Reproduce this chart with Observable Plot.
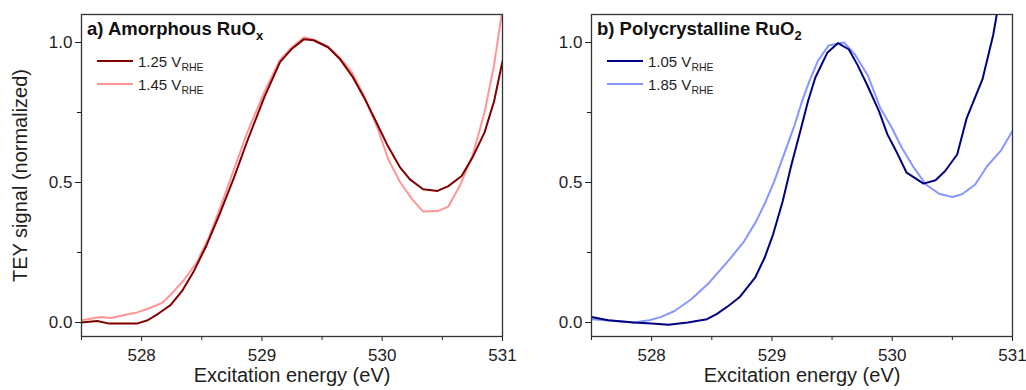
<!DOCTYPE html>
<html><head><meta charset="utf-8">
<script src="https://cdn.jsdelivr.net/npm/d3@7"></script>
<script src="https://cdn.jsdelivr.net/npm/@observablehq/plot@0.6"></script>
<style>
body{margin:0;background:#fff;}
#wrap{position:relative;width:1026px;height:390px;}
#wrap svg{position:absolute;top:0;}
</style></head><body><div id="wrap"></div>
<script>
// Panel a) Amorphous RuOx
const aE125 = [527.5,527.63,527.73,527.85,527.96,528.05,528.14,528.24,528.34,528.43,528.54,528.65,528.77,528.88,529.02,529.15,529.25,529.35,529.43,529.55,529.65,529.75,529.85,529.94,530.04,530.15,530.23,530.34,530.46,530.55,530.66,530.75,530.85,530.93,531.0];
const aV125 = [0.0,0.005,-0.004,-0.004,-0.004,0.008,0.032,0.062,0.115,0.18,0.276,0.389,0.52,0.65,0.805,0.93,0.978,1.012,1.008,0.983,0.94,0.88,0.803,0.725,0.636,0.553,0.511,0.476,0.47,0.487,0.523,0.589,0.678,0.79,0.933];
const aE145 = [527.5,527.66,527.74,527.85,527.96,528.06,528.17,528.25,528.35,528.46,528.56,528.66,528.77,528.88,529.02,529.15,529.25,529.35,529.43,529.55,529.65,529.75,529.85,529.96,530.05,530.15,530.25,530.34,530.46,530.55,530.65,530.75,530.85,530.93,531.0];
const aV145 = [0.008,0.02,0.016,0.026,0.036,0.05,0.07,0.103,0.151,0.216,0.305,0.418,0.55,0.68,0.823,0.938,0.983,1.019,1.01,0.985,0.945,0.892,0.808,0.696,0.583,0.5,0.44,0.396,0.398,0.414,0.493,0.594,0.749,0.92,1.12];
// Panel b) Polycrystalline RuO2
const bE105 = [527.5,527.64,527.85,528.0,528.14,528.3,528.46,528.54,528.64,528.73,528.86,528.94,529.01,529.09,529.16,529.24,529.3,529.36,529.46,529.55,529.64,529.71,529.79,529.89,529.96,530.04,530.12,530.26,530.36,530.44,530.54,530.62,530.75,530.84,530.93];
const bV105 = [0.02,0.008,0.0,-0.004,-0.008,0.0,0.012,0.03,0.06,0.09,0.16,0.232,0.315,0.434,0.56,0.69,0.79,0.874,0.963,0.998,0.975,0.921,0.85,0.755,0.672,0.606,0.535,0.496,0.508,0.541,0.6,0.731,0.868,1.028,1.25];
const bE185 = [527.5,527.67,527.85,527.98,528.08,528.19,528.33,528.48,528.66,528.77,528.87,528.95,529.02,529.11,529.19,529.25,529.31,529.38,529.47,529.6,529.69,529.8,529.9,529.99,530.08,530.18,530.28,530.39,530.5,530.58,530.69,530.79,530.9,531.0];
const bV185 = [0.012,0.006,0.0,0.008,0.02,0.041,0.083,0.143,0.232,0.291,0.362,0.434,0.505,0.612,0.707,0.79,0.86,0.933,0.989,1.0,0.957,0.88,0.767,0.701,0.624,0.553,0.493,0.46,0.448,0.458,0.493,0.559,0.612,0.684];

const xMajor = [528, 529, 530, 531];
const xMinor = [527.5, 528.5, 529.5, 530.5];
const yMajor = [0, 0.5, 1.0];
const yMinor = [0.25, 0.75];
const xLabel = "Excitation energy (eV)";
const yLabel = "TEY signal (normalized)";

const FONT = "'Liberation Sans', Arial, Helvetica, sans-serif";
const INK = "#1e1e1e";

function rows(E, V, s) { return E.map((e, i) => ({e, v: V[i], s})); }

function panel({left, width, mr, series, colors, title, titleSub, showYLabel}) {
  const data = series.flatMap(d => rows(d.E, d.V, d.name));
  const mL = 81, mT = 14, mB = 54;
  const marks = [
    Plot.axisX(xMinor, {tickSize: 4, tickFormat: () => "", label: null, stroke: INK}),
    Plot.axisX(xMajor, {tickSize: 5, tickPadding: 7, tickFormat: d => d.toFixed(0), label: null, fontSize: 17, stroke: INK, fill: INK}),
    Plot.axisY(yMinor, {tickSize: 4, tickFormat: () => "", label: null, stroke: INK}),
    Plot.axisY(yMajor, {tickSize: 6, tickPadding: 3, tickFormat: d => d.toFixed(1), label: null, fontSize: 17, stroke: INK, fill: INK}),
    Plot.line(data, {x: "e", y: "v", stroke: "s", z: "s", strokeWidth: 2, clip: true, curve: "linear"}),
    Plot.frame({stroke: "#333", strokeWidth: 1.3}),
    Plot.text([xLabel], {frameAnchor: "bottom", dy: 45, fontSize: 20, fill: INK, textAnchor: "middle", text: d => d})
  ];
  if (showYLabel) marks.push(Plot.text([yLabel], {frameAnchor: "left", dx: -61, rotate: -90, fontSize: 20, fill: INK, textAnchor: "middle", text: d => d}));
  const svg = Plot.plot({
    width, height: 390, marginLeft: mL, marginRight: mr, marginTop: mT, marginBottom: mB,
    style: {fontFamily: FONT, background: "transparent", overflow: "visible", color: INK},
    x: {domain: [527.5, 531], label: null},
    y: {domain: [-0.05, 1.1], label: null},
    color: {domain: series.map(d => d.name), range: colors},
    marks
  });
  svg.style.left = left + "px";
  const g = d3.select(svg).append("g").attr("font-family", FONT).attr("fill", "#111").attr("text-anchor", "start");
  const t = g.append("text").attr("x", mL + 6).attr("y", 35).attr("font-size", 18.5).attr("font-weight", "bold").text(title);
  t.append("tspan").attr("font-size", 13).attr("dy", 5).text(titleSub);
  // legend (drawn in the order of the legend list)
  const legendOrder = [series[1], series[0]];
  legendOrder.forEach((d, i) => {
    const y = 61 + i * 23;
    g.append("line").attr("x1", mL + 16).attr("x2", mL + 52).attr("y1", y).attr("y2", y)
      .attr("stroke", colors[series.indexOf(d)]).attr("stroke-width", 2.2);
    const tx = g.append("text").attr("x", mL + 57).attr("y", y + 5.5).attr("font-size", 15).attr("fill", INK).text(d.label);
    tx.append("tspan").attr("font-size", 10.5).attr("dy", 4).text("RHE");
  });
  return svg;
}

const wrap = document.getElementById("wrap");
wrap.appendChild(panel({
  left: 0, width: 510, mr: 8,
  series: [{name: "1.45", label: "1.45 V", E: aE145, V: aV145}, {name: "1.25", label: "1.25 V", E: aE125, V: aV125}],
  colors: ["#ff9595", "#800000"],
  title: "a) Amorphous RuO", titleSub: "x", showYLabel: true
}));
wrap.appendChild(panel({
  left: 510, width: 516, mr: 14,
  series: [{name: "1.85", label: "1.85 V", E: bE185, V: bV185}, {name: "1.05", label: "1.05 V", E: bE105, V: bV105}],
  colors: ["#8797ff", "#000080"],
  title: "b) Polycrystalline RuO", titleSub: "2", showYLabel: false
}));
</script></body></html>
